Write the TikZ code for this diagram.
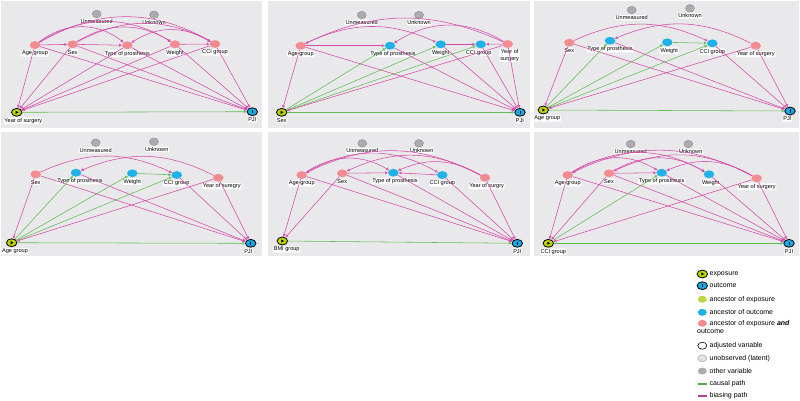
\documentclass[tikz,border=0pt]{standalone}
\usepackage{fontspec}
\setmainfont{Liberation Sans}
\usepackage{tikz}
\usetikzlibrary{arrows.meta,shapes.geometric,calc}
\definecolor{panelgray}{RGB}{233,233,235}
\definecolor{expcol}{RGB}{190,212,3}
\definecolor{outcol}{RGB}{20,170,230}
\definecolor{ancexp}{RGB}{190,214,70}
\definecolor{ancout}{RGB}{30,178,232}
\definecolor{ancboth}{RGB}{242,140,145}
\definecolor{othercol}{RGB}{172,172,176}
\definecolor{latentcol}{RGB}{226,226,228}
\definecolor{biascol}{RGB}{214,72,168}
\definecolor{causalcol}{RGB}{95,188,80}

\begin{document}
\begin{tikzpicture}[x=1pt,y=1pt,
  every node/.style={font=\fontsize{5.6}{6.2}\selectfont},
  label distance=0.8pt,
  var/.style={ellipse,minimum width=10.5pt,minimum height=7.8pt,inner sep=0pt},
  pinkvar/.style={var,fill=ancboth},
  bluevar/.style={var,fill=ancout},
  greyvar/.style={var,minimum width=9pt,minimum height=7.5pt,fill=othercol,draw=gray,line width=0.3pt},
  expo/.style={var,fill=expcol,draw=black,line width=0.8pt,
    path picture={\fill[black] ($(path picture bounding box.center)+(-1pt,1.6pt)$) -- ++(2.8pt,-1.6pt) -- ++(-2.8pt,-1.6pt) -- cycle;}},
  outc/.style={var,fill=outcol,draw=black,line width=0.8pt,
    path picture={\draw[black,line width=0.7pt] ($(path picture bounding box.center)+(0,1.6pt)$) -- ++(0,-3.2pt);}},
  lbl/.style={fill=white,rounded corners=1pt,inner sep=0.7pt},
  bias/.style={draw=biascol,line width=0.55pt,-{Triangle[open,length=2.8pt,width=2.8pt]}},
  causal/.style={draw=causalcol,line width=0.55pt,-{Triangle[open,length=2.8pt,width=2.8pt]}},
  legtext/.style={anchor=west,inner sep=0pt,font=\fontsize{7}{8}\selectfont}]
  \useasboundingbox (0,0) rectangle (800,-400);

  % panel backgrounds
  \foreach \xa/\xb in {1/262,268/530,534/799} {
    \fill[panelgray] (\xa,-1) rectangle (\xb,-128);
    \fill[panelgray] (\xa,-132) rectangle (\xb,-256);
  }

  % panel 1: exposure year of surgery
  \node[greyvar,label={[lbl]below:Unmeasured}] (p1um) at (96.7,-14) {};
  \node[greyvar,label={[lbl]below:Unknown}] (p1uk) at (154,-14.7) {};
  \node[pinkvar,label={[lbl]below:Age group}] (p1a) at (35,-45) {};
  \node[pinkvar,label={[lbl]below:Sex}] (p1s) at (72.7,-44.3) {};
  \node[pinkvar,label={[lbl]below:Type of prosthesis}] (p1t) at (127.3,-45.3) {};
  \node[pinkvar,label={[lbl]below:Weight}] (p1w) at (175,-44.3) {};
  \node[pinkvar,label={[lbl]below:CCI group}] (p1c) at (215,-44) {};
  \node[expo,label={[lbl,xshift=6.6pt]below:Year of surgery}] (p1y) at (16.7,-112.3) {};
  \node[outc,label={[lbl]below:PJI}] (p1o) at (252.3,-111.7) {};
  \foreach \v in {a,s,t,w,c} {
    \draw[bias] (p1\v) -- (p1y);
    \draw[bias] (p1\v) -- (p1o);
  }
  \draw[causal] (p1y) -- (p1o);
  \draw[bias] (p1a) -- (p1s);
  \draw[bias] (p1s) -- (p1t);
  \draw[bias] (p1w) -- (p1c);
  \draw[bias] (p1a) to[bend left=38] (p1t);
  \draw[bias] (p1a) to[bend left=32] (p1w);
  \draw[bias] (p1a) to[bend left=30] (p1c);
  \draw[bias] (p1s) to[bend left=32] (p1w);
  \draw[bias] (p1s) to[bend left=28] (p1c);
  \draw[bias] (p1c) to[bend right=32] (p1t);

  % panel 2: exposure sex
  \node[greyvar,label={[lbl]below:Unmeasured}] (p2um) at (361.7,-15) {};
  \node[greyvar,label={[lbl]below:Unknown}] (p2uk) at (419,-15) {};
  \node[pinkvar,label={[lbl]below:Age group}] (p2a) at (300.7,-45.7) {};
  \node[bluevar,label={[lbl,xshift=3pt]below:Type of prosthesis}] (p2t) at (390,-45.7) {};
  \node[bluevar,label={[lbl]below:Weight}] (p2w) at (440.7,-44.3) {};
  \node[bluevar,label={[lbl,xshift=-2pt]below:CCI group}] (p2c) at (480.7,-44.3) {};
  \node[pinkvar,label={[lbl,align=center,xshift=2pt]below:Year of\\surgery}] (p2y) at (507.7,-44) {};
  \node[expo,label={[lbl]below:Sex}] (p2s) at (281.7,-112.3) {};
  \node[outc,label={[lbl]below:PJI}] (p2o) at (520,-112.3) {};
  \foreach \v in {t,w,c,o} {
    \draw[causal] (p2s) -- (p2\v);
  }
  \foreach \v in {a,t,w,c,y} {
    \draw[bias] (p2\v) -- (p2o);
  }
  \draw[bias] (p2a) -- (p2s);
  \draw[bias] (p2y) -- (p2s);
  \draw[bias] (p2a) -- (p2t);
  \draw[bias] (p2w) -- (p2c);
  \draw[bias] (p2y) -- (p2c);
  \draw[bias] (p2a) to[bend left=25] (p2w);
  \draw[bias] (p2y) to[bend right=32] (p2t);
  \draw[bias] (p2y) to[bend right=25] (p2a);

  % panel 3: exposure age group
  \node[greyvar,label={[lbl]below:Unmeasured}] (p3um) at (631.7,-10) {};
  \node[greyvar,label={[lbl]below:Unknown}] (p3uk) at (690,-8.3) {};
  \node[pinkvar,label={[lbl]below:Sex}] (p3s) at (569.3,-42.7) {};
  \node[bluevar,label={[lbl]below:Type of prosthesis}] (p3t) at (610,-40.7) {};
  \node[bluevar,label={[lbl,xshift=2pt]below:Weight}] (p3w) at (667.3,-42.3) {};
  \node[bluevar,label={[lbl]below:CCI group}] (p3c) at (712.3,-43.3) {};
  \node[pinkvar,label={[lbl]below:Year of surgery}] (p3y) at (755.7,-45.7) {};
  \node[expo,label={[lbl,xshift=4pt]below:Age group}] (p3a) at (543.3,-110) {};
  \node[outc,label={[lbl,xshift=-2.7pt]below:PJI}] (p3o) at (790,-111) {};
  \foreach \v in {t,w,c,o} {
    \draw[causal] (p3a) -- (p3\v);
  }
  \foreach \v in {s,t,c,y} {
    \draw[bias] (p3\v) -- (p3o);
  }
  \draw[bias] (p3s) -- (p3a);
  \draw[bias] (p3y) -- (p3a);
  \draw[causal] (p3w) -- (p3c);
  \draw[bias] (p3s) to[bend left=25] (p3c);
  \draw[bias] (p3y) to[bend right=25] (p3t);

  % panel 4: exposure age group
  \node[greyvar,label={[lbl]below:Unmeasured}] (p4um) at (95.7,-142.7) {};
  \node[greyvar,label={[lbl,xshift=2.7pt]below:Unknown}] (p4uk) at (154,-141.7) {};
  \node[pinkvar,label={[lbl]below:Sex}] (p4s) at (35.7,-174.3) {};
  \node[bluevar,label={[lbl,xshift=4pt]below:Type of prosthesis}] (p4t) at (76,-172.7) {};
  \node[bluevar,label={[lbl]below:Weight}] (p4w) at (132.3,-173.3) {};
  \node[bluevar,label={[lbl]below:CCI group}] (p4c) at (176.7,-175) {};
  \node[pinkvar,label={[lbl,xshift=3.4pt]below:Year of suregry}] (p4y) at (218.3,-177.7) {};
  \node[expo,label={[lbl,xshift=3.3pt]below:Age group}] (p4a) at (11.7,-242.7) {};
  \node[outc,label={[lbl,xshift=-2.4pt]below:PJI}] (p4o) at (250.7,-243.3) {};
  \foreach \v in {t,w,c,o} {
    \draw[causal] (p4a) -- (p4\v);
  }
  \foreach \v in {s,t,c,y} {
    \draw[bias] (p4\v) -- (p4o);
  }
  \draw[bias] (p4s) -- (p4a);
  \draw[bias] (p4y) -- (p4a);
  \draw[causal] (p4w) -- (p4c);
  \draw[bias] (p4s) to[bend left=25] (p4c);
  \draw[bias] (p4y) to[bend right=25] (p4t);

  % panel 5: exposure BMI group
  \node[greyvar,label={[lbl]below:Unmeasured}] (p5um) at (362.3,-143.3) {};
  \node[greyvar,label={[lbl,xshift=2.7pt]below:Unknown}] (p5uk) at (419,-143.3) {};
  \node[pinkvar,label={[lbl]below:Age group}] (p5a) at (301.7,-175) {};
  \node[pinkvar,label={[lbl]below:Sex}] (p5s) at (342.3,-173.3) {};
  \node[bluevar,label={[lbl,xshift=1.7pt]below:Type of prosthesis}] (p5t) at (393.3,-172.7) {};
  \node[bluevar,label={[lbl]below:CCI group}] (p5c) at (442.3,-175) {};
  \node[pinkvar,label={[lbl,xshift=1.7pt]below:Year of surgry}] (p5y) at (485,-177.7) {};
  \node[expo,label={[lbl,xshift=4.4pt]below:BMI group}] (p5b) at (282.3,-241) {};
  \node[outc,label={[lbl]below:PJI}] (p5o) at (517.3,-243.3) {};
  \foreach \v in {a,s,t,c,y} {
    \draw[bias] (p5\v) -- (p5o);
  }
  \draw[causal] (p5b) -- (p5o);
  \draw[bias] (p5a) -- (p5b);
  \draw[bias] (p5s) -- (p5b);
  \draw[bias] (p5s) -- (p5t);
  \draw[bias] (p5c) -- (p5t);
  \draw[bias] (p5a) to[bend left=32] (p5t);
  \draw[bias] (p5a) to[bend left=30] (p5c);
  \draw[bias] (p5y) to[bend right=27] (p5a);
  \draw[bias] (p5y) to[bend right=27] (p5s);
  \draw[bias] (p5y) to[bend right=27] (p5t);

  % panel 6: exposure CCI group
  \node[greyvar,label={[lbl]below:Unmeasured}] (p6um) at (630.7,-144) {};
  \node[greyvar,label={[lbl,xshift=2.4pt]below:Unknown}] (p6uk) at (688.3,-144) {};
  \node[pinkvar,label={[lbl]below:Age group}] (p6a) at (567.7,-175) {};
  \node[pinkvar,label={[lbl]below:Sex}] (p6s) at (609,-173.3) {};
  \node[bluevar,label={[lbl]below:Type of prosthesis}] (p6t) at (661.7,-172.7) {};
  \node[bluevar,label={[lbl,xshift=1.7pt]below:Weight}] (p6w) at (709,-174.3) {};
  \node[pinkvar,label={[lbl]below:Year of surgery}] (p6y) at (756.7,-178.3) {};
  \node[expo,label={[lbl,xshift=5pt]below:CCI group}] (p6c) at (548.3,-243.3) {};
  \node[outc,label={[lbl]below:PJI}] (p6o) at (789,-243.3) {};
  \foreach \v in {a,s,t,w,y} {
    \draw[bias] (p6\v) -- (p6o);
  }
  \draw[causal] (p6c) -- (p6o);
  \draw[causal] (p6c) -- (p6t);
  \draw[bias] (p6a) -- (p6c);
  \draw[bias] (p6s) -- (p6c);
  \draw[bias] (p6y) -- (p6c);
  \draw[bias] (p6s) -- (p6t);
  \draw[bias] (p6a) to[bend left=32] (p6t);
  \draw[bias] (p6a) to[bend left=30] (p6w);
  \draw[bias] (p6s) to[bend left=30] (p6w);
  \draw[bias] (p6y) to[bend right=27] (p6a);
  \draw[bias] (p6y) to[bend right=27] (p6s);
  \draw[bias] (p6y) to[bend right=27] (p6t);

  % legend
  \node[expo] (lgexp) at (702.3,-274) {};
  \node[legtext] (lgexpt) at (709.5,-274) {exposure};
  \node[outc] (lgout) at (702.3,-285.7) {};
  \node[legtext] (lgoutt) at (709.5,-285.7) {outcome};
  \node[var,fill=ancexp,minimum width=9pt,minimum height=7pt] (lgae) at (702.3,-299.3) {};
  \node[legtext] (lgaet) at (709.5,-299.3) {ancestor of exposure};
  \node[var,fill=ancout,minimum width=9pt,minimum height=7pt] (lgao) at (702.3,-312.3) {};
  \node[legtext] (lgaot) at (709.5,-312.3) {ancestor of outcome};
  \node[var,fill=ancboth,minimum width=9pt,minimum height=7pt] (lgab) at (702.3,-323.3) {};
  \node[legtext] (lgabt) at (709.5,-323.3) {ancestor of exposure \textbf{\textit{and}}};
  \node[legtext] (lgabt2) at (697,-331.7) {outcome};
  \node[var,draw=black,line width=0.6pt,fill=white,minimum width=9pt,minimum height=7pt] (lgadj) at (702.3,-345.7) {};
  \node[legtext] (lgadjt) at (709.5,-345.7) {adjusted variable};
  \node[var,draw=gray!60,line width=0.6pt,fill=latentcol,minimum width=9pt,minimum height=7pt] (lglat) at (702.3,-358.3) {};
  \node[legtext] (lglatt) at (709.5,-358.3) {unobserved (latent)};
  \node[var,fill=othercol,minimum width=9pt,minimum height=7pt] (lgoth) at (702.3,-371) {};
  \node[legtext] (lgotht) at (709.5,-371) {other variable};
  \draw[causalcol!90!black,line width=1.6pt] (698,-384) -- (707,-384);
  \node[legtext] (lgcau) at (709.5,-384) {causal path};
  \draw[biascol!85!black,line width=1.6pt] (698,-396) -- (707,-396);
  \node[legtext] (lgbia) at (709.5,-396) {biasing path};
\end{tikzpicture}
\end{document}
